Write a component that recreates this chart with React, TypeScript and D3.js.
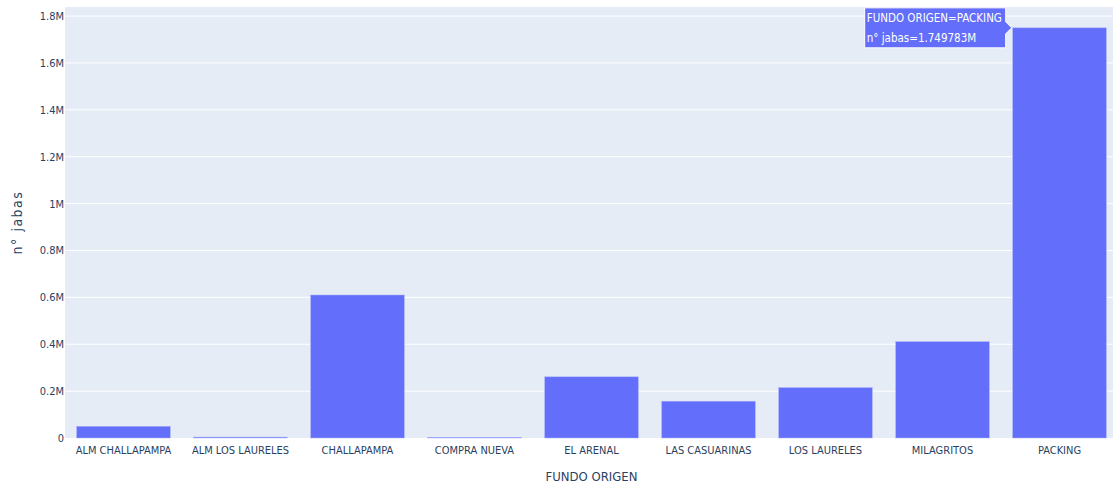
import * as d3 from "d3";
import { useEffect } from "react";

const categories = [
    "ALM CHALLAPAMPA",
    "ALM LOS LAURELES",
    "CHALLAPAMPA",
    "COMPRA NUEVA",
    "EL ARENAL",
    "LAS CASUARINAS",
    "LOS LAURELES",
    "MILAGRITOS",
    "PACKING",
];
const jabas = [50000, 4000, 610000, 3000, 261000, 157000, 215000, 411000, 1749783];
const yTicks = [0, 200000, 400000, 600000, 800000, 1000000, 1200000, 1400000, 1600000, 1800000];
const yTickLabels = ["0", "0.2M", "0.4M", "0.6M", "0.8M", "1M", "1.2M", "1.4M", "1.6M", "1.8M"];

const width = 1113;
const height = 487;
const margin = { top: 7, right: -5, bottom: 49, left: 65 };
const font = "'DejaVu Sans Condensed', 'Liberation Sans Narrow', sans-serif";
const textColor = "#2a3f5f";
const barColor = "#636efa";

const App = () => {
    useEffect(() => {
        document.body.style.margin = "0";
    }, []);

    const x = d3
        .scaleBand()
        .domain(categories)
        .range([margin.left, width - margin.right])
        .paddingInner(0.2)
        .paddingOuter(0.1);

    const y = d3
        .scaleLinear()
        .domain([0, 1.8e6 * (1 + 0.0215)])
        .range([height - margin.bottom, margin.top]);

    const plotW = width - margin.right - margin.left;
    const plotH = height - margin.bottom - margin.top;

    // hover label on the tallest bar
    const hi = categories.length - 1;
    const hx = x(categories[hi]) as number;
    const hy = y(jabas[hi]);

    return (
        <svg width={width} height={height} style={{ display: "block", fontFamily: font }}>
            <rect x={margin.left} y={margin.top} width={plotW} height={plotH} fill="#e5ecf6" />
            {yTicks.map((t, i) => (
                <g key={t}>
                    {i > 0 && (
                        <line
                            x1={margin.left}
                            x2={width - margin.right}
                            y1={y(t)}
                            y2={y(t)}
                            stroke="#fff"
                            strokeWidth={1}
                        />
                    )}
                    <text
                        x={margin.left - 1}
                        y={y(t)}
                        dy="0.36em"
                        textAnchor="end"
                        fontSize={11}
                        fill={textColor}
                    >
                        {yTickLabels[i]}
                    </text>
                </g>
            ))}
            {categories.map((c, i) => (
                <g key={c}>
                    <rect
                        x={x(c)}
                        y={y(jabas[i])}
                        width={x.bandwidth()}
                        height={y(0) - y(jabas[i])}
                        fill={barColor}
                        stroke="#aab0fb"
                        strokeWidth={0.5}
                    />
                    <text
                        x={(x(c) as number) + x.bandwidth() / 2}
                        y={y(0) + 16}
                        textAnchor="middle"
                        fontSize={11}
                        fill={textColor}
                    >
                        {c}
                    </text>
                </g>
            ))}
            <text
                x={margin.left + plotW / 2}
                y={height - 6}
                textAnchor="middle"
                fontSize={13}
                fill={textColor}
            >
                FUNDO ORIGEN
            </text>
            <text
                transform={`translate(22, ${margin.top + plotH / 2}) rotate(-90)`}
                textAnchor="middle"
                fontSize={14}
                letterSpacing={1.5}
                fill={textColor}
            >
                n° jabas
            </text>
            <g transform={`translate(${hx - 1}, ${hy})`}>
                <path
                    d="M0,0 L-6,-6 L-6,-20 L-147,-20 L-147,20 L-6,20 L-6,6 Z"
                    fill={barColor}
                    stroke="#fff"
                    strokeWidth={1}
                />
                <text x={-145} y={-6} fontSize={11.5} fill="#fff">
                    FUNDO ORIGEN=PACKING
                </text>
                <text x={-145} y={14} fontSize={11.5} fill="#fff">
                    n° jabas=1.749783M
                </text>
            </g>
        </svg>
    );
};

export default App;
